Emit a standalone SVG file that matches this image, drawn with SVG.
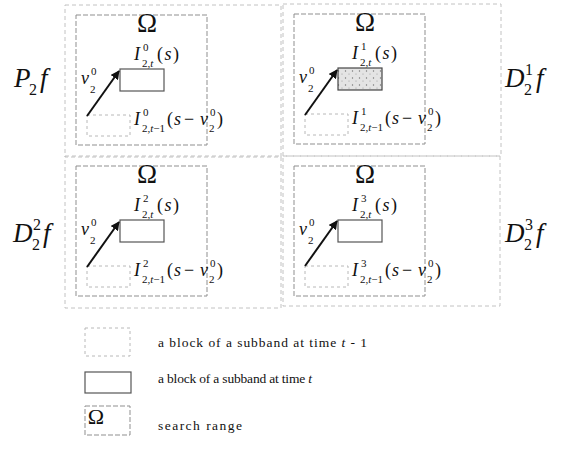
<svg xmlns="http://www.w3.org/2000/svg" width="564" height="449" viewBox="0 0 564 449">
<style>
text{font-family:"Liberation Serif","Times New Roman",serif;fill:#111}
.it{font-style:italic}
.m{font-size:18px}
.s{font-size:11px}
.om{font-size:27px;text-anchor:middle}
.big{font-size:27px;font-style:italic}
.bs{font-size:16px}
.leg{font-size:13.5px}
.outer{fill:none;stroke:#c2c2c2;stroke-width:1;stroke-dasharray:4 3}
.omega{fill:none;stroke:#8f8f8f;stroke-width:1;stroke-dasharray:5 2}
.cur{fill:#fff;stroke:#555;stroke-width:1.2}
.shade{fill:url(#speck);stroke:#444;stroke-width:1.2}
.prev{fill:none;stroke:#b8b8b8;stroke-width:1;stroke-dasharray:3 3}
.arr{stroke:#111;stroke-width:2;fill:none}
</style>
<defs>
<marker id="ah" viewBox="0 0 10 10" refX="9" refY="5" markerWidth="4.5" markerHeight="4.5" orient="auto">
<path d="M0,0 L10,5 L0,10 z" fill="#111"/>
</marker>
<pattern id="speck" width="7" height="7" patternUnits="userSpaceOnUse">
<rect width="7" height="7" fill="#e4e4e4"/>
<circle cx="1.5" cy="2" r="0.7" fill="#777"/>
<circle cx="5" cy="5" r="0.6" fill="#999"/>
</pattern>
</defs>

<g id="q-p2f">
<rect class="outer" x="65" y="5" width="216" height="152"/>
<rect class="omega" x="76" y="15" width="131" height="130"/>
<text class="om" x="147" y="32">Ω</text>
<text class="m it" x="134" y="60">I</text>
<text class="s" x="143" y="51">0</text>
<text class="s" x="142" y="67">2,<tspan class="it">t</tspan></text>
<text class="m" x="157" y="60" letter-spacing="1.5">(<tspan class="it">s</tspan>)</text>
<rect class="prev" x="87" y="115" width="43" height="21"/>
<rect class="cur" x="120" y="69" width="44" height="22"/>
<text class="m it" x="81" y="84">v</text>
<text class="s" x="91" y="75">0</text>
<text class="s" x="90" y="93">2</text>
<text class="m it" x="134" y="125">I</text>
<text class="s" x="143" y="116">0</text>
<text class="s" x="142" y="132">2,<tspan class="it">t</tspan>−1</text>
<text class="m" y="125"><tspan x="167">(</tspan><tspan class="it" x="174">s</tspan><tspan x="184">−</tspan><tspan class="it" x="200">v</tspan></text>
<text class="s" x="210" y="116">0</text>
<text class="s" x="209" y="132">2</text>
<text class="m" x="217" y="125">)</text>
</g>

<g id="q-d21" transform="translate(218,-1)">
<rect class="outer" x="65" y="5" width="218" height="152"/>
<rect class="omega" x="76" y="15" width="131" height="130"/>
<text class="om" x="147" y="32">Ω</text>
<text class="m it" x="134" y="60">I</text>
<text class="s" x="143" y="51">1</text>
<text class="s" x="142" y="67">2,<tspan class="it">t</tspan></text>
<text class="m" x="157" y="60" letter-spacing="1.5">(<tspan class="it">s</tspan>)</text>
<rect class="prev" x="87" y="115" width="43" height="21"/>
<rect class="shade" x="120" y="69" width="44" height="22"/>
<text class="m it" x="81" y="84">v</text>
<text class="s" x="91" y="75">0</text>
<text class="s" x="90" y="93">2</text>
<text class="m it" x="134" y="125">I</text>
<text class="s" x="143" y="116">1</text>
<text class="s" x="142" y="132">2,<tspan class="it">t</tspan>−1</text>
<text class="m" y="125"><tspan x="167">(</tspan><tspan class="it" x="174">s</tspan><tspan x="184">−</tspan><tspan class="it" x="200">v</tspan></text>
<text class="s" x="210" y="116">0</text>
<text class="s" x="209" y="132">2</text>
<text class="m" x="217" y="125">)</text>
</g>

<g id="q-d22" transform="translate(0,151)">
<rect class="outer" x="65" y="5" width="216" height="152"/>
<rect class="omega" x="76" y="15" width="131" height="130"/>
<text class="om" x="147" y="32">Ω</text>
<text class="m it" x="134" y="60">I</text>
<text class="s" x="143" y="51">2</text>
<text class="s" x="142" y="67">2,<tspan class="it">t</tspan></text>
<text class="m" x="157" y="60" letter-spacing="1.5">(<tspan class="it">s</tspan>)</text>
<rect class="prev" x="87" y="115" width="43" height="21"/>
<rect class="cur" x="120" y="69" width="44" height="22"/>
<text class="m it" x="81" y="84">v</text>
<text class="s" x="91" y="75">0</text>
<text class="s" x="90" y="93">2</text>
<text class="m it" x="134" y="125">I</text>
<text class="s" x="143" y="116">2</text>
<text class="s" x="142" y="132">2,<tspan class="it">t</tspan>−1</text>
<text class="m" y="125"><tspan x="167">(</tspan><tspan class="it" x="174">s</tspan><tspan x="184">−</tspan><tspan class="it" x="200">v</tspan></text>
<text class="s" x="210" y="116">0</text>
<text class="s" x="209" y="132">2</text>
<text class="m" x="217" y="125">)</text>
</g>

<g id="q-d23" transform="translate(218,151)">
<rect class="outer" x="65" y="5" width="217" height="150"/>
<rect class="omega" x="76" y="15" width="131" height="130"/>
<text class="om" x="147" y="32">Ω</text>
<text class="m it" x="134" y="60">I</text>
<text class="s" x="143" y="51">3</text>
<text class="s" x="142" y="67">2,<tspan class="it">t</tspan></text>
<text class="m" x="157" y="60" letter-spacing="1.5">(<tspan class="it">s</tspan>)</text>
<rect class="prev" x="87" y="115" width="43" height="21"/>
<rect class="cur" x="120" y="69" width="44" height="22"/>
<text class="m it" x="81" y="84">v</text>
<text class="s" x="91" y="75">0</text>
<text class="s" x="90" y="93">2</text>
<text class="m it" x="134" y="125">I</text>
<text class="s" x="143" y="116">3</text>
<text class="s" x="142" y="132">2,<tspan class="it">t</tspan>−1</text>
<text class="m" y="125"><tspan x="167">(</tspan><tspan class="it" x="174">s</tspan><tspan x="184">−</tspan><tspan class="it" x="200">v</tspan></text>
<text class="s" x="210" y="116">0</text>
<text class="s" x="209" y="132">2</text>
<text class="m" x="217" y="125">)</text>
</g>

<g id="connectors">
<line class="arr" x1="87" y1="116" x2="119" y2="71" marker-end="url(#ah)"/>
<line class="arr" x1="305" y1="115" x2="337" y2="70" marker-end="url(#ah)"/>
<line class="arr" x1="87" y1="267" x2="119" y2="222" marker-end="url(#ah)"/>
<line class="arr" x1="305" y1="266" x2="337" y2="221" marker-end="url(#ah)"/>
</g>

<g id="lbl-p2f">
<text class="big" x="14" y="87">P</text>
<text class="bs" x="29" y="95">2</text>
<text class="big" x="40" y="87">f</text>
</g>
<g id="lbl-d21">
<text class="big" x="505" y="87">D</text>
<text class="bs" x="525" y="75">1</text>
<text class="bs" x="524" y="95">2</text>
<text class="big" x="536" y="87">f</text>
</g>
<g id="lbl-d22">
<text class="big" x="13" y="242">D</text>
<text class="bs" x="33" y="230">2</text>
<text class="bs" x="32" y="250">2</text>
<text class="big" x="43" y="242">f</text>
</g>
<g id="lbl-d23">
<text class="big" x="505" y="242">D</text>
<text class="bs" x="525" y="230">3</text>
<text class="bs" x="524" y="250">2</text>
<text class="big" x="536" y="242">f</text>
</g>

<g id="legend-prev">
<rect class="prev" x="85" y="328" width="45" height="28"/>
<text class="leg" x="158" y="347" textLength="209" lengthAdjust="spacing">a block of a subband at time <tspan class="it">t</tspan> - 1</text>
</g>
<g id="legend-cur">
<rect class="cur" x="85" y="372" width="46" height="21"/>
<text class="leg" x="158" y="383" textLength="154" lengthAdjust="spacing">a block of a subband at time <tspan class="it">t</tspan></text>
</g>
<g id="legend-omega">
<rect class="omega" x="85" y="406" width="45" height="29"/>
<text x="96" y="424" font-size="22" text-anchor="middle">Ω</text>
<text class="leg" x="158" y="430" textLength="84" lengthAdjust="spacing">search range</text>
</g>
</svg>
